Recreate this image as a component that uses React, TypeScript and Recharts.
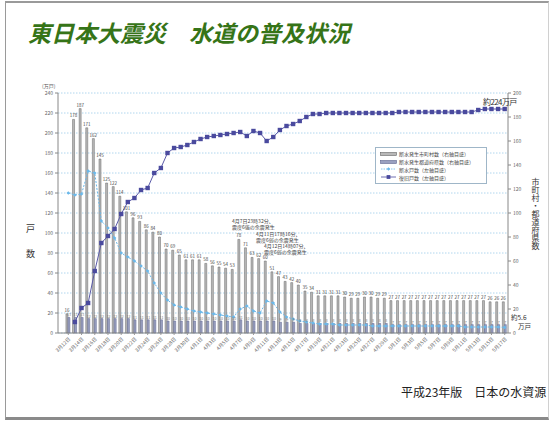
import React from "react";
import { ComposedChart, Bar, Line, XAxis, YAxis, CartesianGrid, LabelList } from "recharts";

const dates = [
  "3月12日", "3月13日", "3月14日", "3月15日", "3月16日", "3月17日", "3月18日", "3月19日", "3月20日", "3月21日",
  "3月22日", "3月23日", "3月24日", "3月25日", "3月26日", "3月27日", "3月28日", "3月29日", "3月30日", "3月31日",
  "4月1日", "4月2日", "4月3日", "4月4日", "4月5日", "4月6日", "4月7日", "4月8日", "4月9日", "4月10日",
  "4月11日", "4月12日", "4月13日", "4月14日", "4月15日", "4月16日", "4月17日", "4月18日", "4月19日", "4月20日",
  "4月21日", "4月22日", "4月23日", "4月24日", "4月25日", "4月26日", "4月27日", "4月28日", "4月29日", "4月30日",
  "5月1日", "5月2日", "5月3日", "5月4日", "5月5日", "5月6日", "5月7日", "5月8日", "5月9日", "5月10日",
  "5月11日", "5月12日", "5月13日", "5月14日", "5月15日", "5月16日", "5月17日",
];

// 断水発生市町村数（右軸）
const towns = [
  16, 178, 187, 171, 162, 145, 125, 122, 114, 101,
  96, 93, 86, 84, 80, 70, 69, 65, 61, 61,
  61, 58, 56, 55, 54, 53, 78, 71, 63, 62,
  60, 51, 47, 43, 42, 40, 35, 34, 31, 31,
  31, 31, 30, 29, 29, 30, 30, 29, 29, 27,
  27, 27, 27, 27, 27, 27, 27, 27, 27, 27,
  27, 27, 27, 27, 26, 26, 26,
];

// 断水発生都道府県数（右軸）
const prefs = [
  13, 13, 13, 12, 12, 12, 12, 12, 12, 12,
  11, 11, 11, 11, 11, 10, 10, 10, 10, 10,
  10, 10, 10, 10, 10, 10, 11, 10, 10, 10,
  10, 10, 9, 9, 9, 8, 8, 8, 8, 8,
  8, 8, 8, 8, 8, 8, 8, 8, 8, 7,
  7, 7, 7, 7, 7, 7, 7, 7, 7, 7,
  7, 7, 7, 7, 7, 7, 7,
];

// 断水戸数（左軸, 万戸）
const outage = [
  140, 138, 139, 162, 160, 112, 105, 95, 80, 76,
  72, 67, 62, 50, 40, 33, 28, 26, 24, 22,
  21, 20, 19, 18, 17, 16, 24, 27, 22, 20,
  32, 30, 21, 16, 14, 12, 11, 10, 9, 9,
  9, 8, 8, 8, 8, 8, 7, 7, 7, 7,
  7, 7, 7, 7, 7, 7, 7, 7, 7, 7,
  6, 6, 6, 6, 6, 6, 5.6,
];

// 復旧戸数（左軸, 万戸）
const restored = [
  null, 11, 25, 30, 62, 90, 97, 104, 119, 131,
  135, 143, 145, 160, 165, 180, 185, 186, 188, 191,
  194, 196, 197, 198, 199, 200, 201, 197, 202, 200,
  192, 196, 203, 207, 209, 212, 216, 219, 219, 220,
  220, 220, 220, 220, 220, 220, 220, 220, 220, 220,
  221, 221, 221, 221, 221, 221, 221, 221, 221, 221,
  221, 221, 223, 224, 224, 224, 224,
];

const leftTicks = [0, 20, 40, 60, 80, 100, 120, 140, 160, 180, 200, 220, 240];
const rightTicks = [0, 20, 40, 60, 80, 100, 120, 140, 160, 180, 200];

const data = dates.map((d, i) => ({
  date: d,
  towns: towns[i],
  prefs: prefs[i],
  outage: outage[i],
  restored: restored[i],
}));

const JP = "'Noto Sans CJK JP', 'Noto Sans', sans-serif";

const SquareDot = (props: any) => {
  const { cx, cy, index } = props;
  if (cx == null || cy == null) return <g key={index} />;
  return <rect key={index} x={cx - 2.2} y={cy - 2.2} width={4.4} height={4.4} fill="#4a4a9e" />;
};

const DiamondDot = (props: any) => {
  const { cx, cy, index } = props;
  if (cx == null || cy == null) return <g key={index} />;
  return <path key={index} d={`M${cx},${cy - 1.8}L${cx + 1.8},${cy}L${cx},${cy + 1.8}L${cx - 1.8},${cy}Z`} fill="#6ab8ea" />;
};

const small = { fontSize: 5, fill: "#666", fontFamily: JP };

const Legend = () => (
  <div
    style={{
      position: "absolute", left: 375, top: 147, width: 112, height: 37,
      border: "1px solid #9fb6c8", background: "#fff", fontFamily: JP, fontSize: 5, color: "#444",
      boxSizing: "border-box", padding: "2px 4px",
    }}
  >
    {[
      { t: "断水発生市町村数（右軸目盛）", k: "bar", c: "#b8b8b8", s: "#666" },
      { t: "断水発生都道府県数（右軸目盛）", k: "bar", c: "#9aa0c0", s: "#5f6690" },
      { t: "断水戸数（左軸目盛）", k: "dia", c: "#6ab8ea" },
      { t: "復旧戸数（左軸目盛）", k: "sq", c: "#4a4a9e" },
    ].map((r) => (
      <div key={r.t} style={{ display: "flex", alignItems: "center", height: 7.8 }}>
        <svg width={17} height={6} style={{ marginRight: 2 }}>
          {r.k === "bar" && <rect x={0.5} y={1.5} width={16} height={3} fill={r.c} stroke={r.s} strokeWidth={0.6} />}
          {r.k === "dia" && (
            <g>
              <line x1={1} y1={3} x2={16} y2={3} stroke={r.c} strokeWidth={0.8} strokeDasharray="1.5 1" />
              <path d="M8.5,1.3L10.2,3L8.5,4.7L6.8,3Z" fill={r.c} />
            </g>
          )}
          {r.k === "sq" && (
            <g>
              <line x1={1} y1={3} x2={16} y2={3} stroke={r.c} strokeWidth={0.8} />
              <rect x={6.6} y={1.1} width={3.8} height={3.8} fill={r.c} />
            </g>
          )}
        </svg>
        <span style={{ whiteSpace: "nowrap" }}>{r.t}</span>
      </div>
    ))}
  </div>
);

const note = (left: number, top: number, l1: string, l2: string) => (
  <div style={{ position: "absolute", left, top, fontFamily: JP, fontSize: 5, lineHeight: "5.5px", color: "#444", whiteSpace: "nowrap" }}>
    {l1}
    <br />
    {l2}
  </div>
);

const tag = (left: number, top: number, text: string) => (
  <div style={{ position: "absolute", left, top, fontFamily: JP, fontSize: 6.5, lineHeight: "6.5px", color: "#333", whiteSpace: "nowrap" }}>
    {text}
  </div>
);

export default function App() {
  return (
    <div style={{ position: "absolute", left: 0, top: 0, width: 560, height: 423, background: "#fff", overflow: "hidden" }}>
      {/* slide frame */}
      <div
        style={{
          position: "absolute", left: 5, top: 1, width: 544, height: 419,
          borderLeft: "1px solid #9a9a9a", borderTop: "2px solid #9a9a9a",
          borderBottom: "3px solid #8a8a8a", borderRight: "1px solid #d0d0d0", boxSizing: "border-box",
        }}
      />
      <div
        style={{
          position: "absolute", left: 28, top: 21, fontFamily: JP, fontSize: 23, lineHeight: 1,
          fontStyle: "italic", fontWeight: 700, color: "#367418", whiteSpace: "nowrap",
        }}
      >
        東日本大震災　水道の普及状況
      </div>

      <div style={{ position: "absolute", left: 0, top: 0 }}>
        <ComposedChart
          width={560}
          height={423}
          data={data}
          margin={{ top: 93, right: 20, bottom: 50, left: 20 }}
          barCategoryGap="14%"
          barGap={0}
          style={{ fontFamily: JP }}
        >
          <CartesianGrid yAxisId="left" vertical={false} stroke="#9ccbea" strokeDasharray="1.5 1.5" strokeWidth={0.8} />
          <XAxis
            dataKey="date"
            interval={1}
            angle={-45}
            textAnchor="end"
            tick={{ fontSize: 5, fill: "#666", fontFamily: JP }}
            tickSize={2}
            tickLine={{ stroke: "#999" }}
            axisLine={{ stroke: "#888" }}
            height={40}
            padding={{ left: 7, right: 0 }}
          />
          <YAxis
            yAxisId="left"
            domain={[0, 240]}
            ticks={leftTicks}
            interval={0}
            width={38}
            tick={small}
            tickSize={3}
            tickLine={{ stroke: "#888" }}
            axisLine={{ stroke: "#888" }}
          />
          <YAxis
            yAxisId="right"
            orientation="right"
            domain={[0, 200]}
            ticks={rightTicks}
            interval={0}
            width={32}
            tick={small}
            tickSize={3}
            tickLine={{ stroke: "#888" }}
            axisLine={{ stroke: "#888" }}
          />
          <Bar yAxisId="right" dataKey="towns" fill="#b8b8b8" stroke="#666" strokeWidth={0.5} isAnimationActive={false}>
            <LabelList dataKey="towns" position="top" offset={2} style={{ fontSize: 4.5, fill: "#444", fontFamily: JP }} />
          </Bar>
          <Bar yAxisId="right" dataKey="prefs" fill="#9aa0c0" stroke="#5f6690" strokeWidth={0.5} isAnimationActive={false}>
            <LabelList dataKey="prefs" position="top" offset={1} style={{ fontSize: 3.5, fill: "#777", fontFamily: JP }} />
          </Bar>
          <Line
            yAxisId="left"
            dataKey="outage"
            stroke="#6ab8ea"
            strokeWidth={1}
            strokeDasharray="2 1.5"
            dot={DiamondDot}
            isAnimationActive={false}
          />
          <Line
            yAxisId="left"
            dataKey="restored"
            stroke="#5a5aa8"
            strokeWidth={1}
            dot={SquareDot}
            connectNulls={false}
            isAnimationActive={false}
          />
        </ComposedChart>
      </div>

      <Legend />

      {note(232, 218, "4月7日23時32分、", "震度6強の余震発生")}
      {note(256, 231, "4月11日17時16分、", "震度6弱の余震発生")}
      {note(264, 243, "4月12日14時07分、", "震度6弱の余震発生")}

      <div style={{ position: "absolute", left: 42, top: 82, fontFamily: JP, fontSize: 5, color: "#555" }}>(万戸)</div>
      <div style={{ position: "absolute", left: 26, top: 222, fontFamily: JP, fontSize: 9, color: "#333" }}>戸</div>
      <div style={{ position: "absolute", left: 26, top: 247, fontFamily: JP, fontSize: 9, color: "#333" }}>数</div>
      <div
        style={{
          position: "absolute", left: 531, top: 178, fontFamily: JP, fontSize: 8, color: "#333",
          writingMode: "vertical-rl", lineHeight: 1,
        }}
      >
        市町村・都道府県数
      </div>
      <div style={{ position: "absolute", left: 483, top: 96, fontFamily: JP, fontSize: 8, color: "#333", whiteSpace: "nowrap", letterSpacing: -0.6 }}>
        約224万戸
      </div>
      {tag(511, 313.5, "約5.6")}
      {tag(518, 322.5, "万戸")}
      <div style={{ position: "absolute", left: 401, top: 383, fontFamily: JP, fontSize: 12, color: "#222", whiteSpace: "nowrap" }}>
        平成23年版　日本の水資源
      </div>
    </div>
  );
}
